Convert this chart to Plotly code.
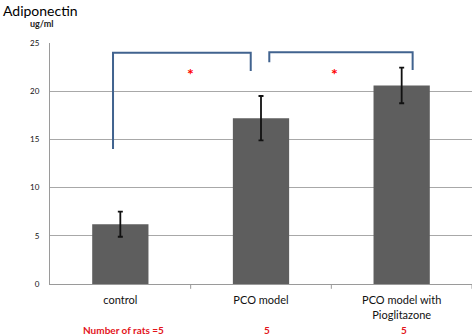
import plotly.graph_objects as go

categories = ["control", "PCO model", "PCO model with<br>Pioglitazone"]
values = [6.2, 17.2, 20.6]
errors = [1.3, 2.3, 1.85]
y_ticks = [0, 5, 10, 15, 20, 25]
rats = ["Number of rats =5", "5", "5"]

FONT = "Lato, 'Open Sans', sans-serif"

W, H = 473, 335
L, R, T, B = 49.5, 0.5, 43, 51
PW, PH = W - L - R, H - T - B


def px(x):
    return (x - L) / PW


def py(y):
    return (H - B - y) / PH


fig = go.Figure()
fig.add_trace(go.Bar(
    x=list(range(len(categories))), y=values,
    marker=dict(color="#5e5e5e", line=dict(width=0)),
    width=0.4,
    error_y=dict(type="data", array=errors, color="#111111", thickness=1.8, width=2.5),
))

blue = "#41638f"
fig.add_shape(type="path", path="M -0.052 14 L -0.052 24.0 L 0.927 24.0 L 0.927 22.1",
              line=dict(color=blue, width=2), xref="x", yref="y")
fig.add_shape(type="path", path="M 1.059 23.0 L 1.059 24.05 L 2.078 24.05 L 2.078 22.2",
              line=dict(color=blue, width=2), xref="x", yref="y")

for xs in [0.50, 1.52]:
    fig.add_annotation(x=xs, y=21.8, text="<b>*</b>", showarrow=False,
                       font=dict(color="#ff0000", size=16, family=FONT), xref="x", yref="y")

rat_px = [123, 267, 404]
for xv, t in zip(rat_px, rats):
    fig.add_annotation(x=px(xv), y=py(330), xref="paper", yref="paper", text="<b>" + t + "</b>",
                       showarrow=False, xanchor="center", yanchor="middle",
                       font=dict(color="#e3141b", size=10, family=FONT))

fig.add_annotation(x=px(0), y=py(10), xref="paper", yref="paper", xanchor="left", yanchor="middle",
                   text="Adiponectin", showarrow=False, font=dict(size=14, color="#000000", family=FONT))
fig.add_annotation(x=px(41), y=py(23), xref="paper", yref="paper", xanchor="center", yanchor="middle",
                   text="<b>ug/ml</b>", showarrow=False, font=dict(size=9, color="#222222", family=FONT))

fig.update_layout(
    width=W, height=H,
    margin=dict(l=L, r=R, t=T, b=B),
    plot_bgcolor="white", paper_bgcolor="white",
    showlegend=False,
    font=dict(family=FONT, color="#111111"),
    xaxis=dict(
        range=[-0.5, 2.5],
        tickvals=[0, 1, 2], ticktext=categories,
        showgrid=False, showline=True, linecolor="#9a9a9a", linewidth=1,
        ticks="", tickfont=dict(size=11, color="#111111"), ticklabelstandoff=6,
        zeroline=False,
    ),
    yaxis=dict(
        range=[0, 25], tickvals=y_ticks,
        showgrid=True, gridcolor="#a8a8a8", gridwidth=1,
        showline=True, linecolor="#9a9a9a", linewidth=1,
        zeroline=False, ticks="", ticklabelstandoff=8,
        tickfont=dict(size=8, color="#111111"),
    ),
)

for xb in [0.5, 1.5, 2.5]:
    fig.add_shape(type="line", x0=xb, x1=xb, y0=0, y1=-0.02, xref="x", yref="y domain",
                  line=dict(color="#9a9a9a", width=1))

fig.write_html("out.html", config={"displayModeBar": False},
               post_script="document.body.style.margin='0px';")
